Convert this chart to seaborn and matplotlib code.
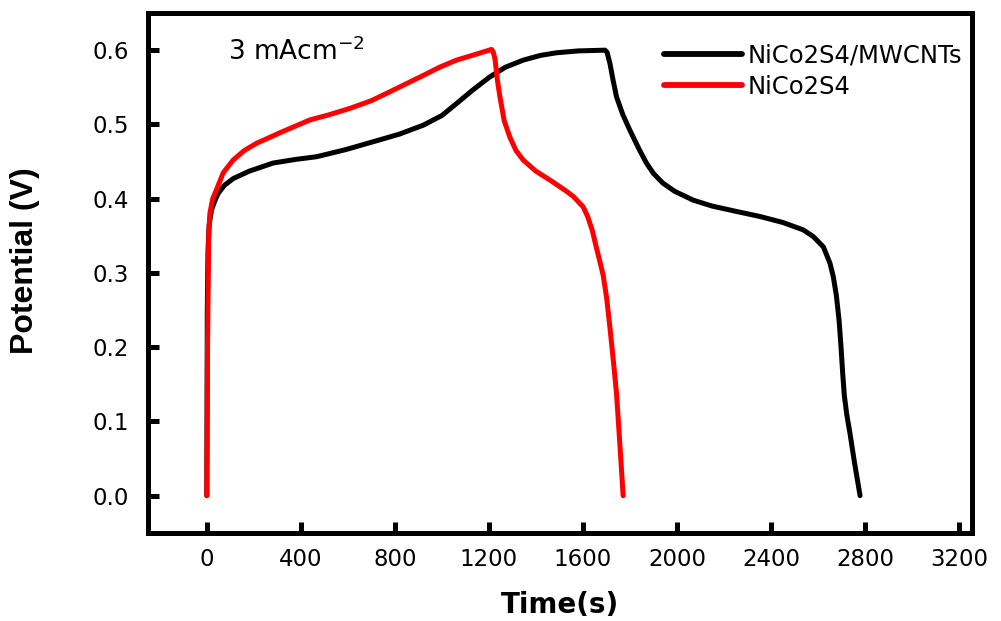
import numpy as np
import pandas as pd
import matplotlib
matplotlib.use("Agg")
import matplotlib.pyplot as plt
import seaborn as sns

# NiCo2S4/MWCNTs (black): charge then discharge
t_cnt = [0, 2, 5, 10, 20, 35, 48, 75, 112, 180, 282, 380, 467, 590, 708, 820, 921, 1000,
         1062, 1130, 1204, 1270, 1346, 1420, 1488, 1580, 1694,
         1703, 1710, 1715, 1728, 1743, 1770, 1800, 1840, 1870, 1900, 1940, 1990, 2069, 2150,
         2250, 2353, 2450, 2537, 2580, 2623, 2651, 2665, 2678, 2690, 2698, 2705, 2712, 2722,
         2736, 2755, 2779]
v_cnt = [0.0, 0.25, 0.33, 0.365, 0.385, 0.398, 0.407, 0.418, 0.427, 0.437, 0.448, 0.453,
         0.4565, 0.466, 0.4767, 0.487, 0.499, 0.512, 0.528, 0.546, 0.564, 0.577, 0.5866,
         0.593, 0.5965, 0.599, 0.600,
         0.597, 0.588, 0.582, 0.560, 0.537, 0.513, 0.492, 0.466, 0.448, 0.434, 0.421, 0.410,
         0.398, 0.390, 0.383, 0.376, 0.368, 0.358, 0.349, 0.335, 0.313, 0.295, 0.270, 0.235,
         0.200, 0.165, 0.135, 0.110, 0.084, 0.045, 0.0]

# NiCo2S4 (red): charge then discharge
t_ni = [0, 3, 8, 13, 25, 41, 70, 112, 160, 211, 320, 438, 520, 609, 700, 779, 850, 921,
        990, 1062, 1140, 1211,
        1218, 1226, 1236, 1247, 1265, 1289, 1315, 1346, 1400, 1460, 1502, 1530, 1559, 1601,
        1620, 1640, 1655, 1670, 1686, 1701, 1715, 1730, 1743, 1757, 1771]
v_ni = [0.0, 0.2, 0.35, 0.38, 0.40, 0.412, 0.435, 0.452, 0.465, 0.4745, 0.49, 0.506, 0.513,
        0.5216, 0.532, 0.544, 0.555, 0.566, 0.577, 0.5866, 0.594, 0.601,
        0.598, 0.588, 0.560, 0.537, 0.505, 0.483, 0.465, 0.452, 0.437, 0.425, 0.416, 0.410,
        0.403, 0.389, 0.376, 0.357, 0.337, 0.318, 0.297, 0.266, 0.226, 0.180, 0.137, 0.070,
        0.0]

x_ticks = [0, 400, 800, 1200, 1600, 2000, 2400, 2800, 3200]
y_ticks = [0.0, 0.1, 0.2, 0.3, 0.4, 0.5, 0.6]

df = pd.concat([
    pd.DataFrame({"Time": t_cnt, "Potential": v_cnt, "Sample": "NiCo2S4/MWCNTs"}),
    pd.DataFrame({"Time": t_ni, "Potential": v_ni, "Sample": "NiCo2S4"}),
], ignore_index=True)

sns.set_theme(style="ticks")
plt.rcParams['font.family'] = ['DejaVu Sans']
plt.rcParams['mathtext.fontset'] = 'dejavusans'

fig = plt.figure(figsize=(10.01, 6.21), dpi=100)
ax = fig.add_axes([0.1479, 0.142, 0.971 - 0.1479, 0.979 - 0.142])

sns.lineplot(data=df, x="Time", y="Potential", hue="Sample", sort=False,
             palette={"NiCo2S4/MWCNTs": "#000000", "NiCo2S4": "#ff0000"},
             linewidth=3.6, ax=ax, estimator=None)
for ln in ax.lines:
    ln.set_solid_capstyle("round")
    ln.set_solid_joinstyle("round")

ax.set_xlim(-250, 3255)
ax.set_ylim(-0.05, 0.65)
ax.set_xticks(x_ticks)
ax.set_yticks(y_ticks)
ax.set_xticklabels([str(v) for v in x_ticks])
ax.set_yticklabels([f"{v:.1f}" for v in y_ticks])
ax.tick_params(direction="in", length=8, width=3.6, labelsize=16.5, colors="black")
ax.tick_params(axis="y", pad=14)
ax.tick_params(axis="x", pad=11)
for sp in ax.spines.values():
    sp.set_linewidth(3.6)
    sp.set_color("black")
    sp.set_visible(True)

ax.set_xlabel("Time(s)", fontsize=20, fontweight="bold", labelpad=14, color="black")
ax.set_ylabel("Potential (V)", fontsize=23, fontweight="bold",
              family=['Liberation Sans', 'DejaVu Sans'], color="black")
ax.yaxis.set_label_coords(-0.131, 0.523)

ax.text(0.0975, 0.925, r"3 mAcm$^{-2}$", transform=ax.transAxes,
        fontsize=19, va="center", ha="left", color="black")

leg = ax.legend(loc="upper right", bbox_to_anchor=(1.0, 0.96), frameon=False,
                fontsize=17.5, handlelength=3.2, handletextpad=0.25, labelspacing=0.3,
                borderaxespad=0.2, borderpad=0.2)
for h in leg.get_lines():
    h.set_linewidth(4.2)
    h.set_solid_capstyle("round")
for txt in leg.get_texts():
    txt.set_color("black")

fig.savefig("out.png", dpi=100)
